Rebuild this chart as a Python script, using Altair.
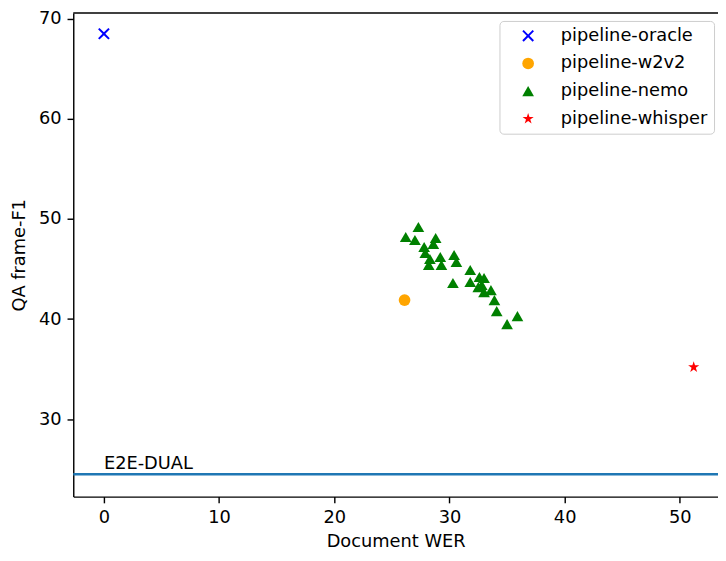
import altair as alt
import pandas as pd

# ---------------- data ----------------
series_names = ["pipeline-oracle", "pipeline-w2v2", "pipeline-nemo", "pipeline-whisper"]
series_colors = ["blue", "orange", "green", "red"]

oracle_wer = [0.0]
oracle_f1 = [68.5]

w2v2_wer = [26.1]
w2v2_f1 = [41.9]

nemo_wer = [26.2, 27.3, 27.0, 27.8, 28.8, 28.6, 27.9, 28.3, 29.2, 28.2, 29.3, 30.4, 30.6,
            30.3, 31.8, 31.8, 32.6, 33.0, 32.8, 32.5, 33.6, 33.0, 33.9, 34.1, 35.0, 35.9]
nemo_f1 = [48.2, 49.2, 47.9, 47.2, 48.1, 47.5, 46.6, 46.0, 46.2, 45.4, 45.4, 46.4, 45.7,
           43.6, 44.9, 43.7, 44.2, 44.1, 43.4, 43.2, 42.9, 42.7, 41.9, 40.8, 39.5, 40.3]

whisper_wer = [51.2]
whisper_f1 = [35.2]

e2e_dual_f1 = [24.5]
e2e_label = ["E2E-DUAL"]
e2e_label_pos_wer = [0.0]
e2e_label_pos_f1 = [25.0]

x_ticks = [0, 10, 20, 30, 40, 50]
y_ticks = [30, 40, 50, 60, 70]

# ---------------- tables ----------------
rows = []
for name, xs, ys in [
    ("pipeline-oracle", oracle_wer, oracle_f1),
    ("pipeline-w2v2", w2v2_wer, w2v2_f1),
    ("pipeline-nemo", nemo_wer, nemo_f1),
    ("pipeline-whisper", whisper_wer, whisper_f1),
]:
    for x, y in zip(xs, ys):
        rows.append({"wer": x, "f1": y, "series": name})
df = pd.DataFrame(rows)

line_df = pd.DataFrame({"f1": e2e_dual_f1})
label_df = pd.DataFrame({"wer": e2e_label_pos_wer, "f1": e2e_label_pos_f1, "label": e2e_label})
top_df = pd.DataFrame({"a": [0]})

X_PATH = ("M-1,-0.76L-0.76,-1L0,-0.24L0.76,-1L1,-0.76L0.24,0L1,0.76L0.76,1"
          "L0,0.24L-0.76,1L-1,0.76L-0.24,0Z")
STAR_PATH = ("M0,-1L0.2245,-0.309L0.9511,-0.309L0.3633,0.118L0.5878,0.809L0,0.382"
             "L-0.5878,0.809L-0.3633,0.118L-0.9511,-0.309L-0.2245,-0.309Z")
series_shapes = [X_PATH, "circle", "triangle-up", STAR_PATH]

W, H = 652, 489
FONT = "DejaVu Sans"

x_scale = alt.Scale(domain=[-2.66, 53.31], nice=False, zero=False)
y_scale = alt.Scale(domain=[22.27, 70.57], nice=False, zero=False)

legend = alt.Legend(
    title=None, orient="none", legendX=431, legendY=8,
    labelFontSize=18, labelFont=FONT, labelColor="black",
    symbolSize=140, symbolStrokeWidth=0, symbolOpacity=1,
    padding=6, rowPadding=10, symbolOffset=14, labelOffset=24,
    strokeColor="#cccccc", cornerRadius=4, fillColor="white",
)

points = alt.Chart(df).mark_point(filled=True, opacity=1, size=140).encode(
    x=alt.X("wer:Q", scale=x_scale, axis=alt.Axis(values=x_ticks, title="Document WER")),
    y=alt.Y("f1:Q", scale=y_scale, axis=alt.Axis(values=y_ticks, title="QA frame-F1")),
    color=alt.Color("series:N", scale=alt.Scale(domain=series_names, range=series_colors),
                    legend=legend, sort=series_names),
    shape=alt.Shape("series:N", scale=alt.Scale(domain=series_names, range=series_shapes),
                    legend=legend, sort=series_names),
)

hline = alt.Chart(line_df).mark_rule(color="#1f77b4", strokeWidth=2.7).encode(
    y=alt.Y("f1:Q", scale=y_scale)
)

label = alt.Chart(label_df).mark_text(
    align="left", baseline="alphabetic", fontSize=18, font=FONT, color="black"
).encode(
    x=alt.X("wer:Q", scale=x_scale),
    y=alt.Y("f1:Q", scale=y_scale),
    text="label:N",
)

top_spine = alt.Chart(top_df).mark_rule(color="black", strokeWidth=1.44).encode(
    x=alt.value(0), x2=alt.value(W), y=alt.value(0)
)

chart = alt.layer(hline, label, points, top_spine).properties(
    width=W, height=H,
    padding={"left": 66, "top": 2, "right": 0, "bottom": 60},
    autosize=alt.AutoSizeParams(type="none"),
).configure_view(stroke=None).configure_axis(
    grid=False,
    domainColor="black", domainWidth=1.44,
    tickColor="black", tickWidth=1.44, tickSize=6.3,
    labelFont=FONT, labelFontSize=18, labelColor="black", labelPadding=6,
    titleFont=FONT, titleFontSize=18, titleColor="black", titleFontWeight="normal",
).configure_axisX(titlePadding=6).configure_axisY(titlePadding=10)

chart.save("out.html", embed_options={"renderer": "svg", "actions": False})
